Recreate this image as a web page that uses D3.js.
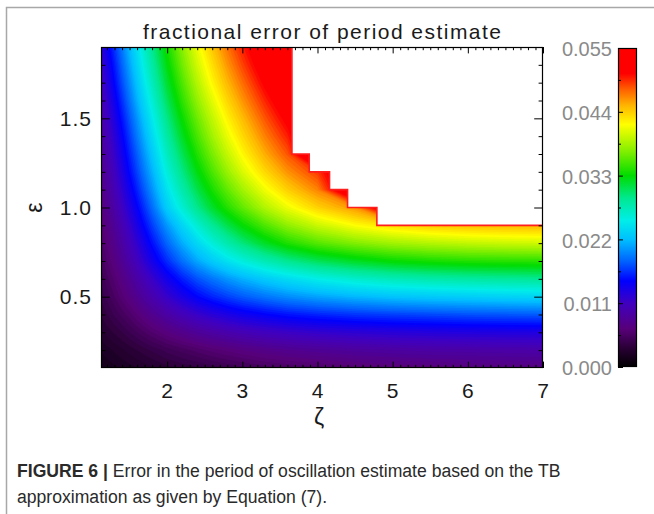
<!DOCTYPE html>
<html>
<head>
<meta charset="utf-8">
<script src="https://cdn.jsdelivr.net/npm/d3@7"></script>
<style>
	body { margin: 0; background: #fff; }
	svg { display: block; font-family: "Liberation Sans", Arial, sans-serif; }
</style>
</head>
<body>
<div id="chartDiv"></div>
<script>
// grid: columns are zeta, rows are epsilon (0.1 at the bottom)
const zetaValues = [1.1, 1.2, 1.3, 1.4, 1.5, 1.6, 1.7, 1.8, 2.0, 2.2, 2.4, 2.6, 2.8, 3.0, 3.3, 3.6, 4.0, 4.5, 5.0, 5.5, 6.0, 6.5, 7.0];
const epsilonValues = [0.1, 0.2, 0.3, 0.4, 0.5, 0.6, 0.7, 0.8, 0.9, 1.0, 1.1, 1.2, 1.3, 1.4, 1.5, 1.6, 1.7, 1.8, 1.9];

// fractional error, null = no estimate (white area)
const errorRows = [
	[0.0015, 0.0017, 0.0019, 0.0021, 0.0023, 0.0025, 0.0027, 0.0029, 0.0033, 0.0036, 0.0039, 0.0042, 0.0045, 0.0048, 0.0052, 0.0055, 0.0058, 0.0062, 0.0064, 0.0066, 0.0068, 0.0069, 0.0070],
	[0.0020, 0.0023, 0.0026, 0.0029, 0.0032, 0.0035, 0.0038, 0.0041, 0.0047, 0.0052, 0.0057, 0.0062, 0.0066, 0.0070, 0.0075, 0.0079, 0.0083, 0.0087, 0.0090, 0.0092, 0.0093, 0.0094, 0.0095],
	[0.0028, 0.0032, 0.0036, 0.0040, 0.0045, 0.0050, 0.0055, 0.0060, 0.0069, 0.0077, 0.0085, 0.0091, 0.0097, 0.0102, 0.0108, 0.0113, 0.0118, 0.0122, 0.0125, 0.0127, 0.0129, 0.0130, 0.0130],
	[0.0035, 0.0040, 0.0046, 0.0052, 0.0058, 0.0065, 0.0072, 0.0079, 0.0092, 0.0104, 0.0115, 0.0124, 0.0132, 0.0139, 0.0147, 0.0154, 0.0160, 0.0166, 0.0170, 0.0173, 0.0176, 0.0178, 0.0180],
	[0.0040, 0.0047, 0.0055, 0.0063, 0.0071, 0.0080, 0.0089, 0.0098, 0.0116, 0.0133, 0.0148, 0.0160, 0.0170, 0.0179, 0.0190, 0.0199, 0.0208, 0.0217, 0.0223, 0.0227, 0.0230, 0.0233, 0.0235],
	[0.0045, 0.0053, 0.0062, 0.0072, 0.0082, 0.0093, 0.0104, 0.0115, 0.0138, 0.0158, 0.0176, 0.0190, 0.0203, 0.0214, 0.0228, 0.0240, 0.0253, 0.0265, 0.0274, 0.0280, 0.0284, 0.0287, 0.0290],
	[0.0050, 0.0060, 0.0070, 0.0082, 0.0095, 0.0108, 0.0122, 0.0136, 0.0163, 0.0188, 0.0210, 0.0228, 0.0244, 0.0258, 0.0276, 0.0291, 0.0307, 0.0321, 0.0331, 0.0337, 0.0341, 0.0343, 0.0344],
	[0.0055, 0.0066, 0.0078, 0.0091, 0.0105, 0.0120, 0.0136, 0.0152, 0.0184, 0.0212, 0.0237, 0.0259, 0.0279, 0.0297, 0.0320, 0.0339, 0.0357, 0.0372, 0.0383, 0.0390, 0.0395, 0.0398, 0.0400],
	[0.0060, 0.0072, 0.0085, 0.0100, 0.0116, 0.0133, 0.0151, 0.0169, 0.0204, 0.0235, 0.0263, 0.0288, 0.0310, 0.0330, 0.0355, 0.0377, 0.0398, 0.0418, 0.0432, 0.0441, 0.0446, 0.0449, 0.0450],
	[0.0065, 0.0079, 0.0094, 0.0110, 0.0128, 0.0146, 0.0166, 0.0186, 0.0230, 0.0262, 0.0292, 0.0318, 0.0341, 0.0361, 0.0389, 0.0412, 0.0438, 0.0462, null, null, null, null, null],
	[0.0070, 0.0085, 0.0102, 0.0120, 0.0139, 0.0159, 0.0180, 0.0201, 0.0245, 0.0279, 0.0310, 0.0337, 0.0361, 0.0383, 0.0413, 0.0439, 0.0467, null, null, null, null, null, null],
	[0.0075, 0.0091, 0.0109, 0.0129, 0.0150, 0.0171, 0.0193, 0.0214, 0.0259, 0.0294, 0.0326, 0.0354, 0.0380, 0.0404, 0.0435, 0.0462, 0.0490, null, null, null, null, null, null],
	[0.0080, 0.0097, 0.0116, 0.0137, 0.0159, 0.0181, 0.0204, 0.0226, 0.0271, 0.0307, 0.0340, 0.0369, 0.0396, 0.0420, 0.0453, 0.0482, null, null, null, null, null, null, null],
	[0.0085, 0.0103, 0.0123, 0.0145, 0.0168, 0.0192, 0.0215, 0.0238, 0.0283, 0.0320, 0.0353, 0.0383, 0.0410, 0.0434, 0.0468, 0.0498, null, null, null, null, null, null, null],
	[0.0090, 0.0110, 0.0131, 0.0154, 0.0178, 0.0202, 0.0226, 0.0249, 0.0294, 0.0332, 0.0365, 0.0395, 0.0423, 0.0447, 0.0482, 0.0513, null, null, null, null, null, null, null],
	[0.0095, 0.0117, 0.0140, 0.0164, 0.0189, 0.0214, 0.0238, 0.0261, 0.0306, 0.0344, 0.0378, 0.0408, 0.0436, 0.0461, 0.0496, 0.0528, null, null, null, null, null, null, null],
	[0.0102, 0.0125, 0.0149, 0.0174, 0.0199, 0.0224, 0.0249, 0.0272, 0.0317, 0.0355, 0.0390, 0.0421, 0.0449, 0.0474, 0.0510, 0.0542, null, null, null, null, null, null, null],
	[0.0108, 0.0132, 0.0157, 0.0183, 0.0209, 0.0234, 0.0259, 0.0282, 0.0327, 0.0366, 0.0401, 0.0432, 0.0461, 0.0487, 0.0523, 0.0555, null, null, null, null, null, null, null],
	[0.0115, 0.0140, 0.0166, 0.0192, 0.0218, 0.0243, 0.0268, 0.0291, 0.0336, 0.0375, 0.0411, 0.0443, 0.0472, 0.0498, 0.0535, 0.0568, null, null, null, null, null, null, null]
];

// edge of the white (no estimate) region: zeta where each step starts, epsilon of that step
const maskZeta = [3.66, 3.89, 4.16, 4.40, 4.79];
const maskEps = [1.3, 1.2, 1.1, 1.0, 0.9];

const xTicks = [2, 3, 4, 5, 6, 7];
const yTicks = [0.5, 1.0, 1.5];
const colorTicks = [0.000, 0.011, 0.022, 0.033, 0.044, 0.055];

const titleText = "fractional error of period estimate";
const xLabel = "\u03b6";
const yLabel = "\u03b5";
const captionBold = "FIGURE 6 |";
const captionLine1 = " Error in the period of oscillation estimate based on the TB";
const captionLine2 = "approximation as given by Equation (7).";

;(function() {

	// rainbow table, position 0..1 along the colour bar
	const RAMP_POS = [0, 0.06, 0.12, 0.2, 0.27, 0.33, 0.4, 0.46, 0.53, 0.6, 0.68, 0.76, 0.82, 0.87, 0.92, 1];
	const RAMP_COL = ["#000000", "#2a0036", "#58007a", "#4000c0", "#0000ff", "#0060ff", "#00c0ff", "#00eee8", "#00e890", "#00dc00", "#88f000", "#ffff00", "#ffb400", "#ff6000", "#ff0000", "#ff0000"];

	var width = 654;
	var height = 514;
	var plotBox = { x: 101, y: 47, width: 442, height: 321 };
	var barBox = { x: 618, y: 48, width: 19, height: 319 };
	var valueMax = 0.055;
	var maskFill = 0.056;

	var svg, plot, xScale, yScale, colorScale;

	init();

	function init() {
		svg = d3.select("#chartDiv").append("svg")
			.attr("width", width)
			.attr("height", height);

		xScale = d3.scaleLinear().domain([1.12, 7]).range([0, plotBox.width]);
		yScale = d3.scaleLinear().domain([0.1, 1.9]).range([plotBox.height, 0]);
		colorScale = d3.scaleLinear()
			.domain(RAMP_POS.map(t => t * valueMax))
			.range(RAMP_COL)
			.clamp(true);

		drawFrame();

		plot = svg.append("g")
			.attr("transform", "translate(" + plotBox.x + "," + plotBox.y + ")");

		drawHeatmap();
		drawMask();
		drawAxes();
		drawColorbar();
		drawLabels();
	}

	function drawFrame() {
		svg.append("path")
			.attr("d", "M6.5,514V7.5H654")
			.attr("fill", "none")
			.attr("stroke", "#a8a8a8")
			.attr("stroke-width", 1.5);
	}

	function drawHeatmap() {
		var nx = zetaValues.length;
		var ny = epsilonValues.length;
		var grid = [];
		errorRows.forEach(row => row.forEach(v => grid.push(v === null ? maskFill : v)));

		var thresholds = d3.range(0, 0.0556, 0.0005);
		var bands = d3.contours().size([nx, ny]).thresholds(thresholds)(grid);

		// grid index -> data coordinate (samples sit at index + 0.5)
		var colIndex = d3.scaleLinear().domain(d3.range(nx)).range(zetaValues);
		var rowIndex = d3.scaleLinear().domain(d3.range(ny)).range(epsilonValues);
		var project = d3.geoTransform({
			point: function(px, py) {
				this.stream.point(xScale(colIndex(px - 0.5)), yScale(rowIndex(py - 0.5)));
			}
		});
		var path = d3.geoPath(project);

		svg.append("clipPath").attr("id", "plotClip")
			.append("rect")
				.attr("width", plotBox.width)
				.attr("height", plotBox.height);

		plot.append("g")
			.attr("clip-path", "url(#plotClip)")
			.selectAll("path")
			.data(bands)
			.enter().append("path")
				.attr("d", path)
				.attr("fill", d => colorScale(d.value + 0.00025));
	}

	function drawMask() {
		var top = 1.9, right = 7;
		var pts = [[maskZeta[0], top]];
		maskZeta.forEach((z, i) => {
			pts.push([z, maskEps[i]]);
			pts.push([i + 1 < maskZeta.length ? maskZeta[i + 1] : right, maskEps[i]]);
		});
		var line = d3.line().x(d => xScale(d[0])).y(d => yScale(d[1]));

		plot.append("path")
			.attr("d", line(pts.concat([[right, top]])) + "Z")
			.attr("fill", "#fff");

		plot.append("path")
			.attr("d", line(pts))
			.attr("fill", "none")
			.attr("stroke", "#ff1e1e")
			.attr("stroke-width", 1.6);
	}

	function drawAxes() {
		var xMinor = d3.range(12, 71).filter(d => d % 10 != 0).map(d => d / 10);
		var yMinor = d3.range(2, 19).filter(d => d % 5 != 0).map(d => d / 10);
		var xMajorLen = 6.4, xMinorLen = 3.2, yMajorLen = 8.8, yMinorLen = 4.4;

		function clean(g) {
			g.select(".domain").remove();
			g.selectAll("line").attr("stroke", "#000").attr("stroke-width", 1);
			g.selectAll("text")
				.style("font-size", "21px")
				.style("letter-spacing", "1px")
				.attr("fill", "#1a1a1a");
		}

		// bottom
		plot.append("g").attr("transform", "translate(0," + plotBox.height + ")")
			.call(d3.axisBottom(xScale).tickValues(xTicks).tickSize(-xMajorLen).tickPadding(15).tickFormat(d3.format("d")))
			.call(clean);
		plot.append("g").attr("transform", "translate(0," + plotBox.height + ")")
			.call(d3.axisBottom(xScale).tickValues(xMinor).tickSize(-xMinorLen).tickFormat(""))
			.call(clean);
		// top
		plot.append("g")
			.call(d3.axisTop(xScale).tickValues(xTicks).tickSize(-xMajorLen).tickFormat(""))
			.call(clean);
		plot.append("g")
			.call(d3.axisTop(xScale).tickValues(xMinor).tickSize(-xMinorLen).tickFormat(""))
			.call(clean);
		// left
		plot.append("g")
			.call(d3.axisLeft(yScale).tickValues(yTicks).tickSize(-yMajorLen).tickPadding(9).tickFormat(d3.format(".1f")))
			.call(clean);
		plot.append("g")
			.call(d3.axisLeft(yScale).tickValues(yMinor).tickSize(-yMinorLen).tickFormat(""))
			.call(clean);
		// right
		plot.append("g").attr("transform", "translate(" + plotBox.width + ",0)")
			.call(d3.axisRight(yScale).tickValues(yTicks).tickSize(-yMajorLen).tickFormat(""))
			.call(clean);
		plot.append("g").attr("transform", "translate(" + plotBox.width + ",0)")
			.call(d3.axisRight(yScale).tickValues(yMinor).tickSize(-yMinorLen).tickFormat(""))
			.call(clean);

		plot.append("rect")
			.attr("x", 0.5).attr("y", 0.5)
			.attr("width", plotBox.width - 1)
			.attr("height", plotBox.height - 1)
			.attr("fill", "none")
			.attr("stroke", "#000")
			.attr("stroke-width", 1.2);
	}

	function drawColorbar() {
		var defs = svg.append("defs");
		var grad = defs.append("linearGradient")
			.attr("id", "barGrad")
			.attr("x1", 0).attr("y1", 1).attr("x2", 0).attr("y2", 0);
		grad.selectAll("stop")
			.data(RAMP_POS)
			.enter().append("stop")
				.attr("offset", d => d)
				.attr("stop-color", (d, i) => RAMP_COL[i]);

		var barScale = d3.scaleLinear().domain([0, valueMax]).range([barBox.height, 0]);
		var bar = svg.append("g").attr("transform", "translate(" + barBox.x + "," + barBox.y + ")");

		bar.append("rect")
			.attr("width", barBox.width)
			.attr("height", barBox.height)
			.attr("fill", "url(#barGrad)");

		var minor = colorTicks.slice(1).map((d, i) => (d + colorTicks[i]) / 2);

		var ax = bar.append("g")
			.call(d3.axisLeft(barScale).tickValues(colorTicks).tickSize(-5).tickPadding(6).tickFormat(d3.format(".3f")));
		ax.select(".domain").remove();
		ax.selectAll("line").attr("stroke", "#000");
		ax.selectAll("text")
			.style("font-size", "20px")
			.attr("fill", "#8a8a8a")
			.attr("dy", "0.38em");

		var ax2 = bar.append("g")
			.call(d3.axisLeft(barScale).tickValues(minor).tickSize(-3).tickFormat(""));
		ax2.select(".domain").remove();
		ax2.selectAll("line").attr("stroke", "#000");

		bar.append("rect")
			.attr("x", 0.5).attr("y", 0.5)
			.attr("width", barBox.width - 1)
			.attr("height", barBox.height - 1)
			.attr("fill", "none")
			.attr("stroke", "#000")
			.attr("stroke-width", 1.2);
	}

	function drawLabels() {
		svg.append("text")
			.attr("x", plotBox.x + plotBox.width / 2)
			.attr("y", 39)
			.attr("text-anchor", "middle")
			.attr("textLength", 358)
			.attr("lengthAdjust", "spacing")
			.style("font-size", "21px")
			.attr("fill", "#1a1a1a")
			.text(titleText);

		svg.append("text")
			.attr("x", plotBox.x + xScale(4.02))
			.attr("y", 425)
			.attr("text-anchor", "middle")
			.style("font-size", "23px")
			.attr("fill", "#1a1a1a")
			.text(xLabel);

		svg.append("text")
			.attr("text-anchor", "middle")
			.attr("transform", "translate(42," + (plotBox.y + yScale(1.0)) + ") rotate(-90)")
			.style("font-size", "23px")
			.attr("fill", "#1a1a1a")
			.text(yLabel);

		var cap = svg.append("g").style("font-size", "17.6px").attr("fill", "#2a2a2a");
		var l1 = cap.append("text").attr("x", 17).attr("y", 477);
		l1.append("tspan").style("font-weight", "bold").text(captionBold);
		l1.append("tspan").text(captionLine1);
		cap.append("text").attr("x", 17).attr("y", 503).text(captionLine2);
	}
})();
</script>
</body>
</html>
